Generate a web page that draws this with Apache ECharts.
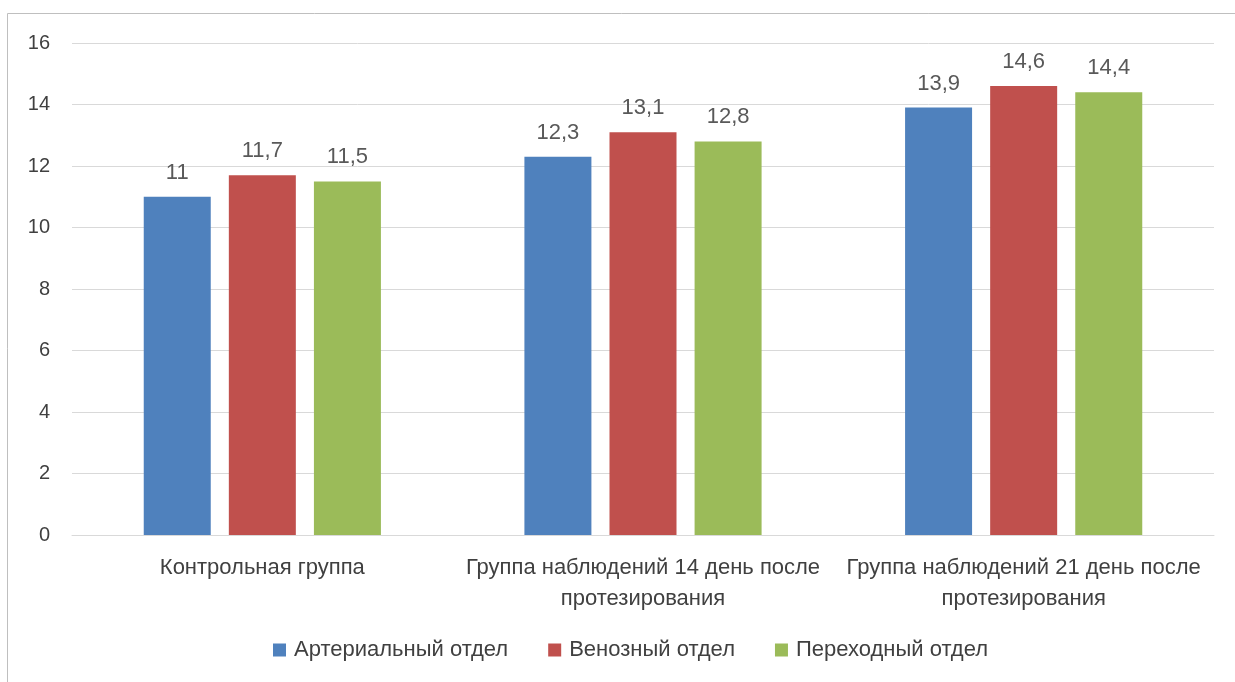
<!DOCTYPE html>
<html>
<head>
<meta charset="utf-8">
<script src="https://cdn.jsdelivr.net/npm/echarts@6/dist/echarts.min.js"></script>
<style>
  html, body { margin: 0; padding: 0; background: #ffffff; }
  #chart { width: 1235px; height: 682px; }
</style>
</head>
<body>
<div id="chart"></div>
<script>
// Categories (groups of observations)
const categories = [
  'Контрольная группа',
  'Группа наблюдений 14 день после\nпротезирования',
  'Группа наблюдений 21 день после\nпротезирования'
];
// Series values
const arterial = [11, 12.3, 13.9];
const venous = [11.7, 13.1, 14.6];
const transitional = [11.5, 12.8, 14.4];
const seriesNames = ['Артериальный отдел', 'Венозный отдел', 'Переходный отдел'];
const colors = ['#4F81BD', '#C0504D', '#9BBB59'];

const FONT = 'Liberation Sans, Arial, sans-serif';
const chart = echarts.init(document.getElementById('chart'));

const fmt = v => String(v).replace('.', ',');

function bar(name, data, color) {
  return {
    name: name,
    type: 'bar',
    data: data,
    barWidth: 67,
    barGap: '27%',
    itemStyle: { color: color },
    label: {
      show: true,
      position: 'top',
      distance: 13,
      color: '#595959',
      fontFamily: FONT,
      fontSize: 22,
      formatter: p => fmt(p.value)
    }
  };
}

chart.setOption({
  animation: false,
  backgroundColor: '#ffffff',
  graphic: [{
    type: 'rect',
    shape: { x: 7.5, y: 13.5, width: 1300, height: 800 },
    style: { fill: 'none', stroke: '#BFBFBF', lineWidth: 1 },
    silent: true
  }],
  legend: {
    data: seriesNames,
    bottom: 16,
    left: 268,
    itemWidth: 13,
    itemHeight: 13,
    itemGap: 40,
    icon: 'rect',
    textStyle: { color: '#404040', fontFamily: FONT, fontSize: 22, padding: [0, 0, 0, 3] }
  },
  grid: { left: 72, right: 21, top: 43, bottom: 147 },
  xAxis: {
    type: 'category',
    data: categories,
    axisTick: { show: false },
    axisLine: { lineStyle: { color: '#D9D9D9', width: 1 } },
    axisLabel: {
      color: '#404040',
      fontFamily: FONT,
      fontSize: 22,
      lineHeight: 31,
      margin: 17,
      interval: 0
    }
  },
  yAxis: {
    type: 'value',
    min: 0,
    max: 16,
    interval: 2,
    axisLine: { show: false },
    axisTick: { show: false },
    splitLine: { lineStyle: { color: '#D9D9D9', width: 1 } },
    axisLabel: {
      color: '#404040',
      fontFamily: FONT,
      fontSize: 20,
      margin: 22
    }
  },
  series: [
    bar(seriesNames[0], arterial, colors[0]),
    bar(seriesNames[1], venous, colors[1]),
    bar(seriesNames[2], transitional, colors[2])
  ]
});
</script>
</body>
</html>
